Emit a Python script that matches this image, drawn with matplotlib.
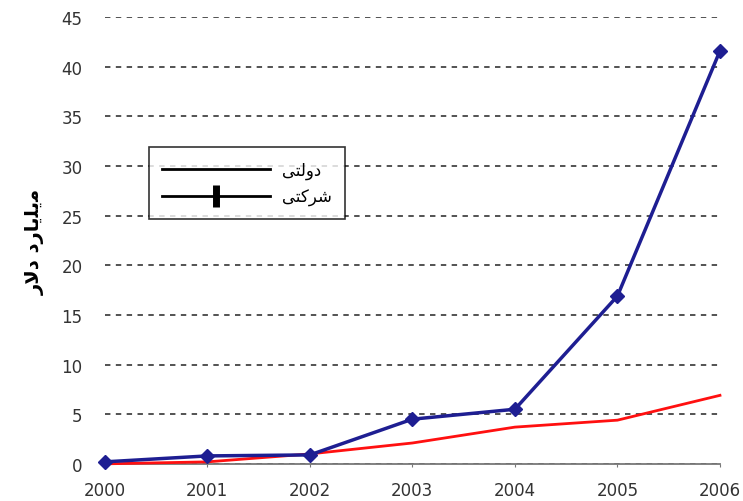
import matplotlib.pyplot as plt
from matplotlib.lines import Line2D

# data (billion dollars)
years = [2000, 2001, 2002, 2003, 2004, 2005, 2006]
sherkati = [0.2, 0.8, 0.9, 4.5, 5.5, 16.9, 41.6]   # blue, diamonds
dolati = [0.0, 0.2, 1.0, 2.1, 3.7, 4.4, 6.9]       # red

# Persian text pre-shaped (presentation forms, visual order) since matplotlib has no shaping
ylabel_txt = '\uFEAD\uFEFB\uFEA9 \uFEA9\uFEAD\uFE8E\uFBFE\uFEE0\uFBFE\uFEE3'   # میلیارد دلار
lbl_dolati = '\uFBFD\uFE98\uFEDF\uFEED\uFEA9'       # دولتی
lbl_sherkati = '\uFBFD\uFE98\uFB90\uFEAE\uFEB7'     # شرکتی

fig = plt.figure(figsize=(7.43, 5.02), dpi=100)
ax = fig.add_axes([0.141, 0.074, 0.828, 0.890])

ax.plot(years, dolati, color='#ff1010', lw=2, zorder=3, clip_on=False)
ax.plot(years, sherkati, color='#1e1e92', lw=2.5, marker='D', ms=7,
        zorder=4, clip_on=False)

ax.set_xlim(2000, 2006)
ax.set_ylim(0, 45)
ax.set_yticks(range(0, 46, 5))
ax.set_xticks(years)
ax.yaxis.grid(True, ls=(0, (3, 3)), color='#444444', lw=1.3)
ax.set_axisbelow(True)
for s in ['top', 'right', 'left']:
    ax.spines[s].set_visible(False)
ax.spines['bottom'].set_color('#777777')
ax.spines['bottom'].set_linewidth(1.3)
ax.tick_params(axis='y', length=0, pad=16, labelsize=12, labelcolor='#333333')
ax.tick_params(axis='x', length=2, pad=10, labelsize=12, labelcolor='#333333',
               color='#777777')

ax.set_ylabel(ylabel_txt, fontsize=14, fontweight='bold', family='DejaVu Sans', labelpad=12)

handles = [Line2D([], [], color='black', lw=2),
           Line2D([], [], color='black', lw=2, marker='|', ms=16, mew=5)]
leg = ax.legend(handles, [lbl_dolati, lbl_sherkati], loc='upper left',
                bbox_to_anchor=(0.058, 0.727), handlelength=6.5, fontsize=12,
                frameon=True, fancybox=False, edgecolor='black',
                borderpad=0.8, labelspacing=0.5, handletextpad=0.7)
leg.get_frame().set_linewidth(1.2)

fig.savefig('out.png')
